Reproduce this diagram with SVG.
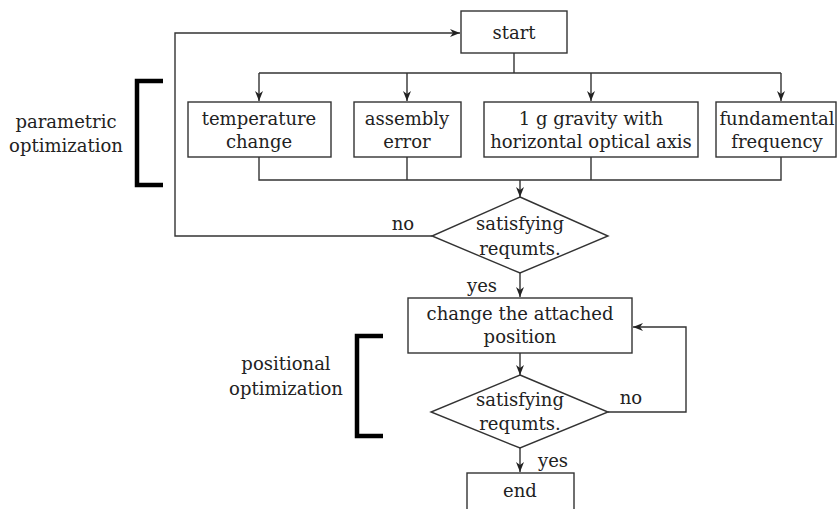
<svg xmlns="http://www.w3.org/2000/svg" width="837" height="509" viewBox="0 0 837 509">
<defs>
<marker id="arr" markerWidth="10" markerHeight="8" refX="10" refY="4" orient="auto" markerUnits="userSpaceOnUse">
<path d="M0,0 L10,4 L0,8 L3,4 Z" fill="#222"/>
</marker>
<style>
.n{fill:#fff;stroke:#333;stroke-width:1.4}
.c{fill:none;stroke:#333;stroke-width:1.4}
.b{fill:none;stroke:#000;stroke-width:4.5}
text{font-family:"DejaVu Serif","Liberation Serif",serif;font-size:18px;fill:#222;text-anchor:middle}
</style>
</defs>
<rect width="837" height="509" fill="#fff"/>
<g id="connectors">
<path class="c" d="M432,236 H175 V33 H460" marker-end="url(#arr)"/>
<path class="c" d="M514,53 V73"/>
<path class="c" d="M259,73 H781"/>
<path class="c" d="M259,73 V101" marker-end="url(#arr)"/>
<path class="c" d="M407,73 V101" marker-end="url(#arr)"/>
<path class="c" d="M591,73 V101" marker-end="url(#arr)"/>
<path class="c" d="M781,73 V101" marker-end="url(#arr)"/>
<path class="c" d="M259,157 V180 H781 V157"/>
<path class="c" d="M407,157 V180"/>
<path class="c" d="M591,157 V180"/>
<path class="c" d="M520,180 V197" marker-end="url(#arr)"/>
<path class="c" d="M520,273 V297" marker-end="url(#arr)"/>
<path class="c" d="M520,353 V375" marker-end="url(#arr)"/>
<path class="c" d="M608,412 H686 V327 H633" marker-end="url(#arr)"/>
<path class="c" d="M520,448 V472" marker-end="url(#arr)"/>
</g>
<g id="start">
<rect class="n" x="461" y="11" width="106" height="42"/>
<text x="514" y="39">start</text>
</g>
<g id="temperature">
<rect class="n" x="188" y="102" width="143" height="55"/>
<text x="259" y="125">temperature</text>
<text x="259" y="148">change</text>
</g>
<g id="assembly">
<rect class="n" x="354" y="102" width="107" height="55"/>
<text x="407" y="125">assembly</text>
<text x="407" y="148">error</text>
</g>
<g id="gravity">
<rect class="n" x="484" y="102" width="214" height="55"/>
<text x="591" y="125">1 g gravity with</text>
<text x="591" y="148">horizontal optical axis</text>
</g>
<g id="frequency">
<rect class="n" x="716" y="102" width="120" height="55"/>
<text x="777" y="125">fundamental</text>
<text x="777" y="148">frequency</text>
</g>
<g id="decision1">
<polygon class="n" points="520,197 608,236 520,273 432,236"/>
<text x="520" y="230">satisfying</text>
<text x="520" y="255">requmts.</text>
</g>
<g id="change">
<rect class="n" x="408" y="298" width="224" height="55"/>
<text x="520" y="320">change the attached</text>
<text x="520" y="343">position</text>
</g>
<g id="decision2">
<polygon class="n" points="520,375 608,412 520,448 431,412"/>
<text x="520" y="406">satisfying</text>
<text x="520" y="430">requmts.</text>
</g>
<g id="end">
<rect class="n" x="467" y="473" width="107" height="50"/>
<text x="520" y="497">end</text>
</g>
<g id="labels">
<text x="403" y="230">no</text>
<text x="482" y="292">yes</text>
<text x="631" y="404">no</text>
<text x="553" y="467">yes</text>
</g>
<g id="parametric">
<path class="b" d="M163,81 H137 V185 H163"/>
<text x="66" y="128">parametric</text>
<text x="66" y="152">optimization</text>
</g>
<g id="positional">
<path class="b" d="M383,336 H357 V436 H383"/>
<text x="286" y="370">positional</text>
<text x="286" y="395">optimization</text>
</g>
</svg>
